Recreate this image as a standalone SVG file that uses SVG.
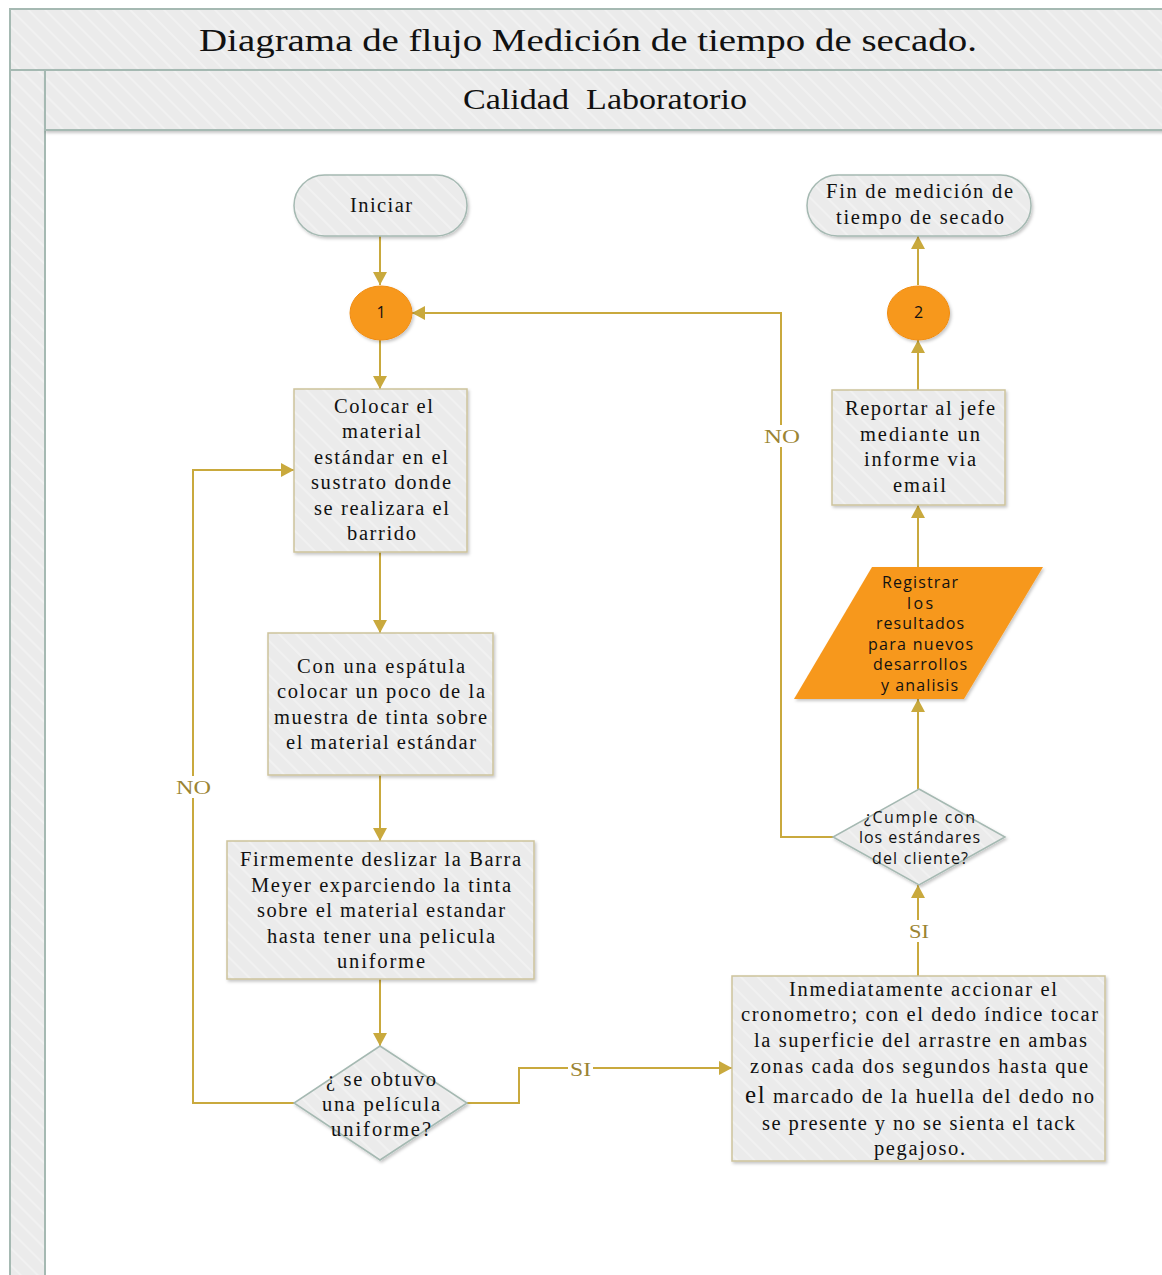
<svg xmlns="http://www.w3.org/2000/svg" width="1162" height="1275" viewBox="0 0 1162 1275">
  <style>
    .band { fill: url(#hatch); stroke: #a5b9b2; stroke-width: 2; }
    .proc { fill: url(#hatch); stroke: #cdc39c; stroke-width: 1.5; filter: url(#shadow); }
    .term { fill: url(#hatch); stroke: #a5b9b2; stroke-width: 1.5; filter: url(#shadow); }
    .dec { fill: url(#hatch); stroke: #a5b9b2; stroke-width: 1.5; filter: url(#shadow); }
    .conn-node { fill: #f7981d; stroke: #f08c12; stroke-width: 1; filter: url(#shadow); }
    .io { fill: #f7981d; filter: url(#shadow); }
    .t { font-family: "Liberation Serif", "Times New Roman", serif; font-size: 20.5px; fill: #111; }
    .s { font-family: "Open Sans", "Noto Sans", sans-serif; font-size: 16px; fill: #111; }
    .hdr { font-family: "Liberation Serif", "Times New Roman", serif; fill: #111; }
    .edge { fill: none; stroke: #c9a93d; stroke-width: 2; }
    .lbl { font-family: "Liberation Serif", "Times New Roman", serif; font-size: 19px; fill: #9b8433; }
  </style>
  <defs>
    <pattern id="hatch" width="12" height="12" patternUnits="userSpaceOnUse" patternTransform="rotate(-45)">
      <rect width="12" height="12" fill="#ebebeb"/>
      <line x1="1" y1="0" x2="1" y2="12" stroke="#f1f1f1" stroke-width="2"/>
    </pattern>
    <filter id="shadow" x="-10%" y="-10%" width="125%" height="130%">
      <feDropShadow dx="1.5" dy="2" stdDeviation="1.8" flood-color="#000" flood-opacity="0.22"/>
    </filter>
    <marker id="arrow" markerUnits="userSpaceOnUse" markerWidth="14" markerHeight="14" refX="13" refY="7" orient="auto">
      <path d="M0,0 L13,7 L0,14 z" fill="#c9a93d"/>
    </marker>
  </defs>

  <rect width="1162" height="1275" fill="#ffffff"/>

  <!-- pool and lane frame -->
  <g id="pool">
    <rect class="band" x="10" y="9" width="1160" height="61"/>
    <rect class="band" x="10" y="70" width="35" height="1215"/>
    <rect class="band" x="45" y="70" width="1125" height="60" filter="url(#shadow)"/>
    <text class="hdr" x="199" y="51" font-size="32" textLength="778" lengthAdjust="spacingAndGlyphs">Diagrama de flujo Medición de tiempo de secado.</text>
    <text class="hdr" x="463" y="109" font-size="29" textLength="284" lengthAdjust="spacingAndGlyphs" xml:space="preserve">Calidad  Laboratorio</text>
  </g>

  <!-- connectors -->
  <g id="connectors">
    <path class="edge" d="M380,236 V285" marker-end="url(#arrow)"/>
    <path class="edge" d="M380,340 V389" marker-end="url(#arrow)"/>
    <path class="edge" d="M380,552 V633" marker-end="url(#arrow)"/>
    <path class="edge" d="M380,775 V841" marker-end="url(#arrow)"/>
    <path class="edge" d="M380,979 V1046" marker-end="url(#arrow)"/>
    <path class="edge" d="M294,1103 H193 V470 H294" marker-end="url(#arrow)"/>
    <path class="edge" d="M467,1103 H519 V1068 H732" marker-end="url(#arrow)"/>
    <path class="edge" d="M918,976 V885" marker-end="url(#arrow)"/>
    <path class="edge" d="M833,837 H781 V313 H412" marker-end="url(#arrow)"/>
    <path class="edge" d="M918,789 V699" marker-end="url(#arrow)"/>
    <path class="edge" d="M918,567 V505" marker-end="url(#arrow)"/>
    <path class="edge" d="M918,390 V340" marker-end="url(#arrow)"/>
    <path class="edge" d="M918,285 V236" marker-end="url(#arrow)"/>
    <rect x="174" y="776" width="38" height="22" fill="#fff"/>
    <text class="lbl" x="176" y="794" textLength="35" lengthAdjust="spacingAndGlyphs">NO</text>
    <rect x="762" y="425" width="40" height="22" fill="#fff"/>
    <text class="lbl" x="764" y="443" textLength="36" lengthAdjust="spacingAndGlyphs">NO</text>
    <rect x="568" y="1058" width="25" height="22" fill="#fff"/>
    <text class="lbl" x="570" y="1076" textLength="21" lengthAdjust="spacingAndGlyphs">SI</text>
    <rect x="906" y="920" width="26" height="22" fill="#fff"/>
    <text class="lbl" x="909" y="938" textLength="20" lengthAdjust="spacingAndGlyphs">SI</text>
  </g>

  <g id="iniciar">
    <rect class="term" x="294" y="175" width="173" height="61" rx="30.5"/>
    <text class="t" x="350" y="212" textLength="62">Iniciar</text>
  </g>

  <g id="conector-1">
    <ellipse class="conn-node" cx="381" cy="313" rx="31" ry="27"/>
    <text class="s" x="381" y="318" text-anchor="middle">1</text>
  </g>

  <g id="colocar">
    <rect class="proc" x="294" y="389" width="173" height="163"/>
    <text class="t" x="334" y="413" textLength="99">Colocar el</text>
    <text class="t" x="342" y="438" textLength="79">material</text>
    <text class="t" x="314" y="464" textLength="134">estándar en el</text>
    <text class="t" x="311" y="489" textLength="140">sustrato donde</text>
    <text class="t" x="314" y="515" textLength="135">se realizara el</text>
    <text class="t" x="347" y="540" textLength="69">barrido</text>
  </g>

  <g id="espatula">
    <rect class="proc" x="268" y="633" width="225" height="142"/>
    <text class="t" x="297" y="673" textLength="168">Con una espátula</text>
    <text class="t" x="277" y="698" textLength="208">colocar un poco de la</text>
    <text class="t" x="274" y="724" textLength="213">muestra de tinta sobre</text>
    <text class="t" x="286" y="749" textLength="190">el material estándar</text>
  </g>

  <g id="deslizar">
    <rect class="proc" x="227" y="841" width="307" height="138"/>
    <text class="t" x="240" y="866" textLength="281">Firmemente deslizar la Barra</text>
    <text class="t" x="251" y="892" textLength="260">Meyer exparciendo la tinta</text>
    <text class="t" x="257" y="917" textLength="248">sobre el material estandar</text>
    <text class="t" x="267" y="943" textLength="228">hasta tener una pelicula</text>
    <text class="t" x="337" y="968" textLength="88">uniforme</text>
  </g>

  <g id="decision-pelicula">
    <polygon class="dec" points="380,1046 467,1103 380,1160 294,1103"/>
    <text class="t" x="326" y="1086" textLength="110">¿ se obtuvo</text>
    <text class="t" x="322" y="1111" textLength="118">una película</text>
    <text class="t" x="331" y="1136" textLength="100">uniforme?</text>
  </g>

  <g id="cronometro">
    <rect class="proc" x="732" y="976" width="373" height="185"/>
    <text class="t" x="789" y="996" textLength="268">Inmediatamente accionar el</text>
    <text class="t" x="741" y="1021" textLength="357">cronometro; con el dedo índice tocar</text>
    <text class="t" x="754" y="1047" textLength="333">la superficie del arrastre en ambas</text>
    <text class="t" x="750" y="1073" textLength="338">zonas cada dos segundos hasta que</text>
    <text class="t" x="745" y="1103" textLength="349"><tspan font-size="25">el</tspan> marcado de la huella del dedo no</text>
    <text class="t" x="762" y="1130" textLength="313">se presente y no se sienta el tack</text>
    <text class="t" x="874" y="1155" textLength="91">pegajoso.</text>
  </g>

  <g id="decision-estandares">
    <polygon class="dec" points="919,789 1005,837 919,885 833,837"/>
    <text class="s" x="864" y="823" textLength="111">¿Cumple con</text>
    <text class="s" x="859" y="843" textLength="121">los estándares</text>
    <text class="s" x="872" y="864" textLength="96">del cliente?</text>
  </g>

  <g id="registrar">
    <polygon class="io" points="872,567 1043,567 964,699 794,699"/>
    <text class="s" x="882" y="588" textLength="76">Registrar</text>
    <text class="s" x="907" y="609" textLength="26">los</text>
    <text class="s" x="876" y="629" textLength="88">resultados</text>
    <text class="s" x="868" y="650" textLength="105">para nuevos</text>
    <text class="s" x="873" y="670" textLength="94">desarrollos</text>
    <text class="s" x="881" y="691" textLength="77">y analisis</text>
  </g>

  <g id="reportar">
    <rect class="proc" x="832" y="390" width="173" height="115"/>
    <text class="t" x="845" y="415" textLength="150">Reportar al jefe</text>
    <text class="t" x="860" y="441" textLength="120">mediante un</text>
    <text class="t" x="864" y="466" textLength="112">informe via</text>
    <text class="t" x="893" y="492" textLength="53">email</text>
  </g>

  <g id="conector-2">
    <ellipse class="conn-node" cx="918.5" cy="313" rx="31" ry="27"/>
    <text class="s" x="918.5" y="318" text-anchor="middle">2</text>
  </g>

  <g id="fin">
    <rect class="term" x="807" y="175" width="224" height="61" rx="30.5"/>
    <text class="t" x="826" y="198" textLength="187">Fin de medición de</text>
    <text class="t" x="836" y="224" textLength="168">tiempo de secado</text>
  </g>
</svg>
